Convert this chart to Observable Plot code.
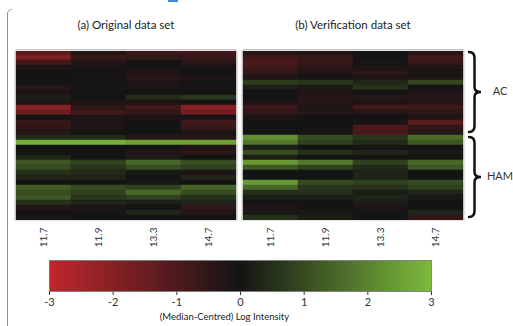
<!DOCTYPE html>
<html><head><meta charset="utf-8">
<script src="https://cdn.jsdelivr.net/npm/d3@7"></script>
<script src="https://cdn.jsdelivr.net/npm/@observablehq/plot@0.6"></script>
<style>
body{margin:0;background:#fff;font-family:Lato,sans-serif;}
#wrap{position:relative;width:513px;height:326px;overflow:hidden;background:#fff;}
#heat{position:absolute;left:0;top:0;}
#bar{position:absolute;left:0;top:250px;}
#vline{position:absolute;left:7px;top:9px;width:4px;height:330px;border-left:1.5px solid #8f8f8f;border-top:1px solid #b0b0b0;border-top-left-radius:6px;}
#blue{position:absolute;left:168px;top:0;width:10px;height:2px;background:#3d8be0;}
</style></head>
<body>
<div id="wrap"><div id="vline"></div><div id="blue"></div><div id="heat"></div><div id="bar"></div></div>
<script>
// ---- data ----
const columns = ["11.7", "11.9", "13.3", "14.7"];
const datasets = ["original", "verification"];
const titles = ["(a) Original data set", "(b) Verification data set"];
const groups = ["AC", "HAM"];
const groupFirst = [0, 17];
const groupLast = [16, 33];
const legendTicks = [-3, -2, -1, 0, 1, 2, 3];
const colorLabel = "(Median-Centred) Log Intensity";

const orig117 = [-1.2,-1.8,-0.8,-0.2,0,0,0,-0.3,-0.2,0.2,-0.2,-2.0,-1.5,0,-0.6,-0.5,-0.3,0.4,2.8,0,0,0.3,1.2,1.0,0.5,0.3,0,1.3,1.0,1.2,0.5,-0.3,0,0.1];
const orig119 = [-0.3,-0.6,-0.3,-0.1,0,-0.1,0,-0.1,0,0,-0.2,-0.4,-0.8,-0.2,-0.2,-0.2,0,0.4,2.8,0,0,0,0.8,0.6,0.4,0.3,0,1.0,0.8,0.6,0.3,-0.2,0,0];
const orig133 = [-0.7,-0.5,0,0,-0.2,-0.3,-0.2,-0.1,0,0.4,-0.2,-0.8,-0.5,-0.2,0,0,0,-0.3,2.5,0,-0.3,0.2,1.5,1.0,0.1,0,-0.1,0.8,1.5,0.8,0.2,0,0.3,0];
const orig147 = [-0.8,-0.6,-0.4,-0.1,0,-0.2,0,-0.1,0,0.6,0,-2.0,-1.6,0,-0.8,-0.6,-0.2,-0.3,2.5,-0.3,-0.4,0,1.0,0.8,-0.2,0.3,0,1.4,1.0,0.5,0.3,-0.5,-0.3,0];
const verif117 = [-0.3,-0.8,-1.0,-0.8,-0.5,-0.2,0.7,0.2,0,0,-0.2,-0.7,-0.5,-0.2,0,0,0,2.2,1.8,0.2,1.0,0.2,2.4,1.2,0,0,2.4,1.5,0.5,0.2,0,-0.2,0.1,0.5];
const verif119 = [-0.2,-0.6,-0.6,-0.4,-0.2,0,0.6,0.1,-0.2,-0.3,-0.3,-0.2,-0.3,0,0,0,-0.1,1.0,0.8,0,0.5,0,1.8,0.8,0,0,1.0,0.6,0.5,0.2,0,0,0.1,0.2];
const verif133 = [0,0,-0.1,-0.2,-0.4,-0.2,0.3,0.5,0,-0.3,-0.2,-0.8,-0.3,0,-0.1,-1.0,-0.9,0.6,0.4,0,0.3,0,0.8,0.4,0.3,0.3,0.8,0.5,0.2,0.3,0.2,-0.2,0,0];
const verif147 = [-0.3,-0.8,-0.6,-0.2,-0.1,-0.2,0.9,0,-0.2,-0.3,-0.3,-0.7,-0.4,-0.2,-1.2,-0.5,-0.3,1.6,1.2,0,0.1,0,1.5,1.2,0,0,1.0,0.8,0.3,0.1,0,0,0.3,-0.5];

const series = [[orig117, orig119, orig133, orig147], [verif117, verif119, verif133, verif147]];
const cells = [];
datasets.forEach((ds, i) => series[i].forEach((vals, c) => vals.forEach((v, r) => cells.push({ds, col: columns[c], row: r, v}))));
const rows = orig117.map((_, i) => i);

const color = {type: "linear", domain: [-3, 0, 3], range: ["#c0272d", "#141414", "#7dbb3c"], clamp: true};

const heat = Plot.plot({
  width: 513, height: 250,
  marginLeft: 14, marginRight: 49, marginTop: 50, marginBottom: 30,
  fx: {domain: datasets, paddingInner: 0.018, paddingOuter: 0, axis: null, label: null},
  x: {domain: columns, padding: 0, tickRotate: -90, tickSize: 0, tickPadding: 7, label: null},
  y: {domain: rows, padding: 0, axis: null},
  color,
  style: {fontFamily: "Lato, sans-serif", fontSize: "10px", color: "#333", background: "transparent"},
  marks: [
    Plot.cell(cells, {fx: "ds", x: "col", y: "row", fill: "v", stroke: "v", strokeWidth: 0.5, inset: 0}),
    Plot.frame({stroke: "#e2e2e2", strokeWidth: 1}),
    Plot.text(datasets, {fx: d => d, text: (d, i) => titles[i], frameAnchor: "top", dy: -30, fontSize: 11.5, fill: "#222"})
  ]
});
document.getElementById("heat").appendChild(heat);

// braces and group labels
const ys = heat.scale("y");
const yb = d3.scaleBand(ys.domain, ys.range).padding(0);
const svg = d3.select(heat);
const xr = 513 - 49;
groups.forEach((g, i) => {
  const t = yb(groupFirst[i]) + 2, b = yb(groupLast[i]) + yb.bandwidth() - 3, m = (t + b) / 2;
  const x0 = xr + 5, x1 = xr + 10.5, x2 = xr + 17;
  svg.append("path")
    .attr("d", `M${x0},${t} Q${x1},${t} ${x1},${t + 6} L${x1},${m - 5} Q${x1},${m} ${x2},${m} Q${x1},${m} ${x1},${m + 5} L${x1},${b - 6} Q${x1},${b} ${x0},${b}`)
    .attr("fill", "none").attr("stroke", "#111").attr("stroke-width", 2.5).attr("stroke-linecap", "round");
  svg.append("text").attr("x", 500).attr("y", (yb(groupFirst[i]) + yb(groupLast[i]) + yb.bandwidth()) / 2)
    .attr("text-anchor", "middle").attr("dominant-baseline", "middle")
    .attr("font-size", 11).attr("fill", "#333").attr("font-family", "Lato, sans-serif").text(g);
});

const bar = Plot.plot({
  width: 513, height: 76,
  marginLeft: 49, marginRight: 82, marginTop: 10, marginBottom: 35,
  x: {domain: [-3, 3], ticks: legendTicks, tickFormat: d => String(d), tickSize: 4, tickPadding: 3, label: null},
  y: {domain: [0, 1], axis: null},
  color,
  style: {fontFamily: "Lato, sans-serif", fontSize: "11px", color: "#333", background: "transparent"},
  marks: [
    Plot.raster({fill: (x, y) => x, x1: -3, x2: 3, y1: 0, y2: 1, width: 382, height: 1}),
    Plot.frame({stroke: "#777", strokeWidth: 0.8}),
    Plot.text([colorLabel], {frameAnchor: "bottom", dy: 28, dx: -16, fontSize: 9.5, fill: "#222"})
  ]
});
document.getElementById("bar").appendChild(bar);
</script>
</body></html>
